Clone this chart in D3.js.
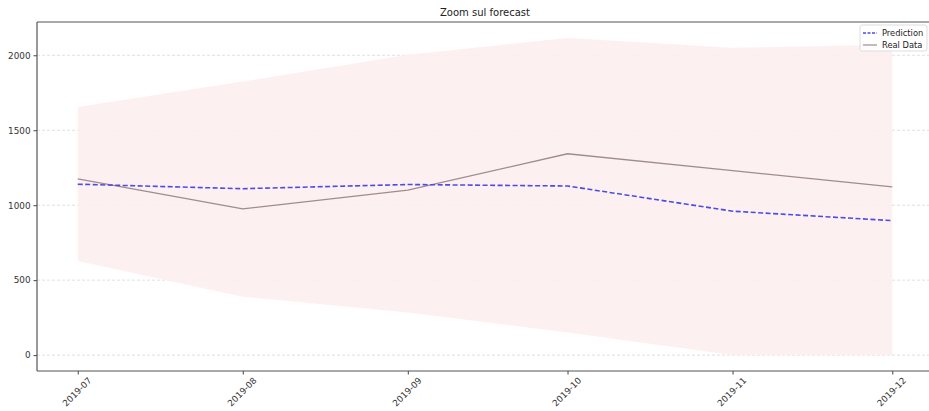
<!DOCTYPE html>
<html>
<head>
<meta charset="utf-8">
<title>Zoom sul forecast</title>
<script src="https://cdn.jsdelivr.net/npm/d3@7"></script>
<style>
    body { margin:0; background:white; font-family:'DejaVu Sans', sans-serif; }
    svg { display:block; }
    .tick text { fill:#333; }
</style>
</head>
<body>
<svg id="chart" width="929" height="411"></svg>
<script>
// data
const months = ["2019-07-01", "2019-08-01", "2019-09-01", "2019-10-01", "2019-11-01", "2019-12-01"];
const prediction = [1140, 1110, 1138, 1128, 960, 897];
const realData = [1175, 975, 1100, 1343, 1230, 1122];
const upperBound = [1655, 1825, 2003, 2115, 2050, 2072];
const lowerBound = [627, 390, 285, 150, 0, 0];
const yTicks = [0, 500, 1000, 1500, 2000];
const title = "Zoom sul forecast";

const parse = d3.timeParse("%Y-%m-%d");
const dates = months.map(parse);

const plot = { left: 37, right: 933, top: 22, bottom: 371 };
const DAY = 24 * 3600 * 1000;
const pad = 7.65 * DAY;

let xScale = d3.scaleTime()
    .domain([new Date(dates[0].getTime() - pad), new Date(dates[dates.length - 1].getTime() + pad)])
    .range([plot.left, plot.right]);
let yScale = d3.scaleLinear()
    .domain([-106, 2222])
    .range([plot.bottom, plot.top]);

let svg = d3.select("#chart");

svg.append("clipPath").attr("id", "clip")
    .append("rect")
    .attr("x", plot.left).attr("y", plot.top)
    .attr("width", plot.right - plot.left).attr("height", plot.bottom - plot.top);

// grid (horizontal only)
svg.append("g")
    .selectAll("line")
    .data(yTicks)
    .join("line")
    .attr("x1", plot.left).attr("x2", plot.right)
    .attr("y1", d => yScale(d)).attr("y2", d => yScale(d))
    .attr("stroke", "#d8d8d8")
    .attr("stroke-width", 0.8)
    .attr("stroke-dasharray", "3,2");

let g = svg.append("g").attr("clip-path", "url(#clip)");

// confidence band
let area = d3.area()
    .x((d, i) => xScale(dates[i]))
    .y0((d, i) => yScale(lowerBound[i]))
    .y1((d, i) => yScale(upperBound[i]));
g.append("path")
    .datum(months)
    .attr("d", area)
    .attr("fill", "#fdeeee")
    .attr("fill-opacity", 0.9);

let line = d3.line()
    .x((d, i) => xScale(dates[i]))
    .y(d => yScale(d));

g.append("path")
    .datum(realData)
    .attr("d", line)
    .attr("fill", "none")
    .attr("stroke", "#a08c8c")
    .attr("stroke-width", 1.3);

g.append("path")
    .datum(prediction)
    .attr("d", line)
    .attr("fill", "none")
    .attr("stroke", "#4b4bea")
    .attr("stroke-width", 1.6)
    .attr("stroke-dasharray", "5,2.5");

// axes
let xAxis = d3.axisBottom(xScale)
    .tickValues(dates)
    .tickFormat(d3.timeFormat("%Y-%m"))
    .tickSizeOuter(0)
    .tickSize(3.5);
let gx = svg.append("g")
    .attr("transform", `translate(0,${plot.bottom})`)
    .call(xAxis);
gx.select(".domain").remove();
gx.selectAll(".tick line").attr("stroke", "#444");
gx.selectAll(".tick text")
    .attr("font-size", 8.8)
    .attr("font-family", "DejaVu Sans, sans-serif")
    .attr("text-anchor", "end")
    .attr("dy", null)
    .attr("y", 0)
    .attr("transform", "translate(14,10) rotate(-45)");

let yAxis = d3.axisLeft(yScale)
    .tickValues(yTicks)
    .tickFormat(d3.format("d"))
    .tickSizeOuter(0)
    .tickSize(3.5)
    .tickPadding(3);
let gy = svg.append("g")
    .attr("transform", `translate(${plot.left},0)`)
    .call(yAxis);
gy.select(".domain").remove();
gy.selectAll(".tick line").attr("stroke", "#444");
gy.selectAll(".tick text")
    .attr("font-size", 8.8)
    .attr("font-family", "DejaVu Sans, sans-serif");

// spines
let spine = svg.append("g").attr("stroke", "#555").attr("stroke-width", 1.2);
spine.append("line").attr("x1", plot.left).attr("x2", plot.left).attr("y1", plot.top).attr("y2", plot.bottom);
spine.append("line").attr("x1", plot.left).attr("x2", plot.right).attr("y1", plot.top).attr("y2", plot.top);
spine.append("line").attr("x1", plot.left).attr("x2", plot.right).attr("y1", plot.bottom).attr("y2", plot.bottom);

// title
svg.append("text")
    .attr("x", (plot.left + plot.right) / 2)
    .attr("y", 16)
    .attr("text-anchor", "middle")
    .attr("font-size", 10)
    .attr("fill", "#222")
    .text(title);

// legend
let legend = svg.append("g").attr("transform", "translate(860,25)");
legend.append("rect")
    .attr("width", 67).attr("height", 26)
    .attr("rx", 2)
    .attr("fill", "white").attr("fill-opacity", 0.85)
    .attr("stroke", "#ddd");
let entries = [
    { name: "Prediction", color: "#4b4bea", dash: "3,1.5", w: 1.6 },
    { name: "Real Data", color: "#a08c8c", dash: null, w: 1.2 }
];
entries.forEach((e, i) => {
    let y = 8 + i * 12;
    legend.append("line")
        .attr("x1", 3).attr("x2", 17).attr("y1", y).attr("y2", y)
        .attr("stroke", e.color).attr("stroke-width", e.w)
        .attr("stroke-dasharray", e.dash);
    legend.append("text")
        .attr("x", 22).attr("y", y + 3)
        .attr("font-size", 8.3)
        .attr("fill", "#222")
        .text(e.name);
});
</script>
</body>
</html>
